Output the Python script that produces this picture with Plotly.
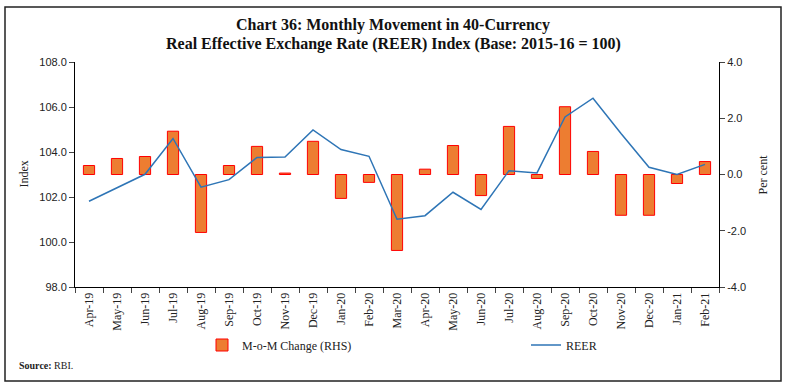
import plotly.graph_objects as go

months = ["Apr-19", "May-19", "Jun-19", "Jul-19", "Aug-19", "Sep-19", "Oct-19", "Nov-19",
          "Dec-19", "Jan-20", "Feb-20", "Mar-20", "Apr-20", "May-20", "Jun-20", "Jul-20",
          "Aug-20", "Sep-20", "Oct-20", "Nov-20", "Dec-20", "Jan-21", "Feb-21"]
mom_change = [0.32, 0.57, 0.64, 1.54, -2.06, 0.32, 1.00, 0.05,
              1.18, -0.85, -0.28, -2.70, 0.19, 1.03, -0.75, 1.71,
              -0.14, 2.41, 0.82, -1.45, -1.45, -0.32, 0.46]
reer = [101.81, 102.40, 103.01, 104.60, 102.44, 102.77, 103.76, 103.78,
        104.98, 104.11, 103.81, 101.01, 101.17, 102.21, 101.45, 103.17,
        103.07, 105.56, 106.39, 104.82, 103.32, 103.00, 103.45]

left_ticks = [98, 100, 102, 104, 106, 108]
right_ticks = [-4, -2, 0, 2, 4]

title_lines = ["Chart 36: Monthly Movement in 40-Currency",
               "Real Effective Exchange Rate (REER) Index (Base: 2015-16 = 100)"]

SERIF = "Liberation Serif"
SANS = "Liberation Sans"

# plot area in pixels: x 75..719, y 62..287
PL, PR, PT, PB = 75, 719, 62, 287
def px(x):
    return (x - PL) / (PR - PL)
def py(y):
    return (PB - y) / (PB - PT)

fig = go.Figure()
fig.add_trace(go.Bar(
    x=months, y=mom_change, name="M-o-M Change (RHS)", yaxis="y",
    width=0.4, marker=dict(color="#ED7D31", line=dict(color="#FF0000", width=1)),
))
fig.add_trace(go.Scatter(
    x=months, y=reer, name="REER", yaxis="y2", mode="lines",
    line=dict(color="#2E75B6", width=1.5),
))

fig.update_layout(
    width=786, height=389,
    margin=dict(l=PL, r=786 - PR, t=PT, b=389 - PB, autoexpand=False),
    paper_bgcolor="white", plot_bgcolor="white",
    showlegend=True,
    xaxis=dict(
        type="category", tickangle=-90, tickson="boundaries", ticks="outside", ticklen=5,
        showline=True, linecolor="black", linewidth=1, showgrid=False,
        tickfont=dict(family=SERIF, size=12, color="#222"),
    ),
    yaxis=dict(
        side="right", range=[-4, 4], tickvals=right_ticks,
        ticktext=[f"{v:.1f}" for v in right_ticks],
        ticks="outside", ticklen=5, showline=True, linecolor="black", linewidth=1,
        showgrid=False, zeroline=False,
        tickfont=dict(family=SANS, size=11, color="#222"),
    ),
    yaxis2=dict(
        side="left", overlaying="y", range=[98, 108], tickvals=left_ticks,
        ticktext=[f"{v:.1f}" for v in left_ticks],
        ticks="outside", ticklen=5, showline=True, linecolor="black", linewidth=1,
        showgrid=False, zeroline=False,
        tickfont=dict(family=SANS, size=11, color="#222"),
    ),
    legend=dict(
        orientation="h", x=px(202), xanchor="left", y=py(345), yanchor="middle",
        entrywidth=279, font=dict(family=SERIF, size=12, color="#222"),
        bgcolor="rgba(0,0,0,0)",
    ),
    annotations=[
        dict(text="<b>" + title_lines[0] + "</b>", xref="paper", yref="paper", x=px(393), y=py(25),
             xanchor="center", yanchor="middle", showarrow=False,
             font=dict(family=SERIF, size=16, color="#111")),
        dict(text="<b>" + title_lines[1] + "</b>", xref="paper", yref="paper", x=px(393), y=py(44),
             xanchor="center", yanchor="middle", showarrow=False,
             font=dict(family=SERIF, size=16, color="#111")),
        dict(text="Index", xref="paper", yref="paper", x=px(23), y=0.5,
             xanchor="center", yanchor="middle",
             textangle=-90, showarrow=False, font=dict(family=SERIF, size=12, color="#222")),
        dict(text="Per cent", xref="paper", yref="paper", x=px(762), y=0.5,
             xanchor="center", yanchor="middle",
             textangle=-90, showarrow=False, font=dict(family=SERIF, size=12, color="#222")),
        dict(text="<b>Source:</b> RBI.", xref="paper", yref="paper",
             x=px(17), xanchor="left", y=py(365), yanchor="middle",
             showarrow=False, font=dict(family=SERIF, size=10, color="#222")),
    ],
    shapes=[
        dict(type="rect", xref="paper", yref="paper",
             x0=px(5), x1=px(781), y0=py(381), y1=py(7),
             line=dict(color="#222", width=1.5)),
    ],
)

fig.write_html("out.html", config={"displayModeBar": False},
               post_script="document.body.style.margin='0px';document.body.style.overflow='hidden';")
